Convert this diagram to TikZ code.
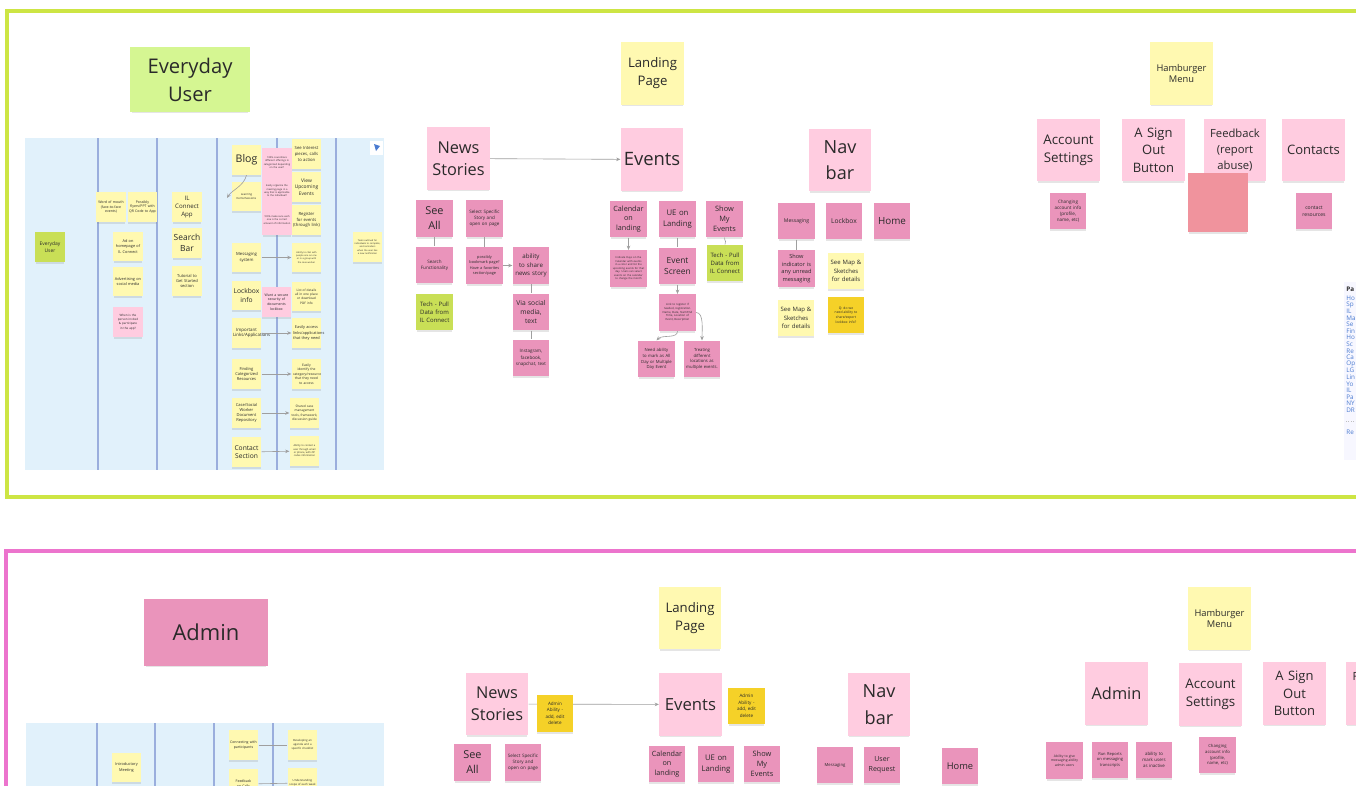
\documentclass[tikz,border=0pt]{standalone}
\usepackage{fontspec}
\setmainfont{Open Sans}
\usepackage{xcolor}
\usepackage{tikz}
\usetikzlibrary{arrows.meta, shadows}

\definecolor{ink}{HTML}{2A2A2A}
\definecolor{nYellow}{HTML}{FFF9B1}
\definecolor{nPink}{HTML}{FFCCE0}
\definecolor{nRose}{HTML}{EA94BB}
\definecolor{nLime}{HTML}{C9DF56}
\definecolor{nMint}{HTML}{D5F692}
\definecolor{nGold}{HTML}{F5D128}
\definecolor{nCoral}{HTML}{F0939D}
\definecolor{boardBlue}{HTML}{E1F1FB}
\definecolor{laneLine}{HTML}{9AAEDD}
\definecolor{frameLime}{HTML}{CDE544}
\definecolor{framePink}{HTML}{EC74CD}
\definecolor{linkBlue}{HTML}{4A7BD0}

\newcommand{\fs}[2]{\fontsize{#1}{#2}\selectfont}

\begin{document}
\begin{tikzpicture}[>=Stealth, x=0.02cm, y=-0.02cm,
    note/.style={rectangle, inner sep=0.5pt, align=center, text=ink,
        execute at begin node={\hyphenpenalty=10000\exhyphenpenalty=10000},
        drop shadow={shadow xshift=0pt, shadow yshift=-0.05cm, shadow scale=0.97, opacity=0.2}},
    sm/.style={note, minimum width=0.73cm, minimum height=0.73cm, text width=0.66cm},
    lg/.style={note, minimum width=1.25cm, minimum height=1.25cm, text width=1.15cm},
    th/.style={note, minimum width=0.59cm, minimum height=0.59cm, text width=0.54cm},
    cYel/.style={fill=nYellow}, cPink/.style={fill=nPink}, cRose/.style={fill=nRose},
    cLime/.style={fill=nLime}, cGold/.style={fill=nGold}, cMint/.style={fill=nMint},
    wire/.style={gray!75, line width=0.35pt},
    arr/.style={-{Stealth[length=2.4pt, width=2pt]}}]

\path[use as bounding box] (0,0) rectangle (1356,785);
\clip (0,0) rectangle (1356,785);
\fill[white] (0,0) rectangle (1356,785);

% ============================================================
% UPPER FRAME: Everyday user
% ============================================================

\draw[frameLime, line width=0.08cm] (7,11) rectangle (1420,497);

\node[note, cMint, minimum width=2.4cm, minimum height=1.3cm, font=\fs{11.5}{16}]
    (evuser) at (190,79.5) {Everyday\\User};

% --- journey board (thumbnail) ---
\fill[boardBlue] (25,138) rectangle (384,470);
\foreach \lx in {98, 157, 217, 277, 336} {
    \draw[laneLine, line width=0.6pt] (\lx,138) -- (\lx,470);
}
\fill[white] (370,141) rectangle (383,155);
\fill[linkBlue] (374,144) -- (380,146) -- (376,151) -- cycle;

\node[th, cLime,  font=\fs{2.8}{3.6}] (bu)     at (50,247)    {Everyday User};
\node[th, cYel,   font=\fs{2}{2.7}]   (wom)    at (111,207)   {Word of mouth (face-to-face events)};
\node[th, cYel,   font=\fs{2}{2.7}]   (flyers) at (142.5,207) {Possibly flyers/PPT with QR Code to App};
\node[th, cYel,   font=\fs{2.2}{3}]   (adhome) at (128,246.5) {Ad on homepage of IL Connect};
\node[th, cYel,   font=\fs{2.2}{3}]   (advsoc) at (128,281.5) {Advertising on social media};
\node[th, cPink,  font=\fs{1.7}{2.4}] (when)   at (128,322)   {When is the person invited \& participate in the app?};
\node[th, cYel,   font=\fs{3.5}{4.6}] (ilapp)  at (187,207)   {IL Connect App};
\node[th, cYel,   font=\fs{4.8}{6}]   (sbar)   at (187,243)   {Search Bar};
\node[th, cYel,   font=\fs{2.3}{3}]   (tut)    at (187,281)   {Tutorial to Get Started section};

\node[th, cYel,   font=\fs{6}{7}]     (blog)     at (246.5,160)   {Blog};
\node[th, cPink,  font=\fs{1.4}{1.9}] (bpa)      at (277,162.5)   {100\% council/are different offerings in categorized depending on the user?};
\node[th, cYel,   font=\fs{2.4}{3.3}] (seeint)   at (306.5,154)   {See Interest pieces, calls to action};
\node[th, cYel,   font=\fs{1.6}{2.2}] (learn)    at (246.5,196.5) {Learning Items/Sessions};
\node[th, cPink,  font=\fs{1.4}{1.9}] (bpb)      at (277,191)     {Easily organize the meeting page in a way that is applicable to the individual?};
\node[th, cYel,   font=\fs{2.8}{3.7}] (viewup)   at (306.5,187)   {View Upcoming Events};
\node[th, cPink,  font=\fs{1.4}{1.9}] (bpc)      at (277,220)     {100\% make sure each one is the correct amount of information};
\node[th, cYel,   font=\fs{2.4}{3.2}] (reg)      at (306.5,220)   {Register for events (through link)};
\node[th, cYel,   font=\fs{2.4}{3.2}] (msgsys)   at (246.5,257.5) {Messaging system};
\node[th, cYel,   font=\fs{1.3}{1.8}] (msgnote)  at (306.5,257.5) {Ability to chat with people one on one or in a group with the case worker};
\node[th, cYel,   font=\fs{3.8}{4.8}] (lbinfo)   at (246.5,295.5) {Lockbox info};
\node[th, cPink,  font=\fs{2}{2.6}]   (lbpink)   at (276.5,302)   {Want a secure security of documents lockbox};
\node[th, cYel,   font=\fs{1.8}{2.5}] (lbdet)    at (306.5,296.5) {List of details all in one place or download PDF info};
\node[th, cYel,   font=\fs{2.5}{3.3}] (implinks) at (246.5,333)   {Important Links/Appli\-cations};
\node[th, cYel,   font=\fs{2.2}{2.9}] (easyacc)  at (306.5,333)   {Easily access links/applications that they need};
\node[th, cYel,   font=\fs{2.3}{3}]   (findcat)  at (246.5,374)   {Finding Categorized Resources};
\node[th, cYel,   font=\fs{1.9}{2.6}] (easyid)   at (306.5,374)   {Easily identify the category/resource that they need to access};
\node[th, cYel,   font=\fs{2.3}{3}]   (casew)    at (246.5,413)   {Case/Social Worker Document Repository};
\node[th, cYel,   font=\fs{1.8}{2.5}] (mgmt)     at (304.5,413)   {Shared case management tools, framework, discussion guide};
\node[th, cYel,   font=\fs{3.8}{4.8}] (contsec)  at (246.5,452)   {Contact Section};
\node[th, cYel,   font=\fs{1.4}{1.9}] (abcont)   at (304.5,451)   {Ability to contact a user through email or phone, with ZIP codes information};
\node[th, cYel,   font=\fs{1.3}{1.8}] (tasks)    at (367.5,247)   {Tasks outlined for individuals to complete, and reminders when the user has a new notification};

\foreach \a/\b in {msgsys/msgnote, implinks/easyacc, findcat/easyid, casew/mgmt, contsec/abcont} {
    \draw[wire, arr] (\a) -- (\b);
}
\coordinate (blogend) at (227,198);
\draw[wire, arr] (blog.south) .. controls (244,186) and (232,190) .. (blogend);

% --- landing page tree ---
\node[lg, cYel,  font=\fs{7.5}{10.2}] (landing) at (652.5,73.5) {Landing\\Page};
\node[lg, cPink, font=\fs{9.3}{12.5}] (news)    at (458.5,158.5) {News\\Stories};
\node[lg, cPink, font=\fs{10.5}{13}]  (events)  at (652,159.5)   {Events};
\node[lg, cPink, font=\fs{10.3}{15}]  (navbar)  at (840,160)     {Nav\\bar};
\draw[wire, arr] (news) -- (events);

\node[sm, cRose, font=\fs{6.2}{8.5}]  (seeall)   at (434.5,218.5) {See\\All};
\node[sm, cRose, font=\fs{2.6}{3.4}]  (select)   at (484.5,218.5) {Select Specific Story and open on page};
\node[sm, cRose, font=\fs{2.6}{3.4}]  (search)   at (434.5,265)   {Search\\Functionality};
\node[sm, cRose, font=\fs{2.2}{3}]    (bookmark) at (484.5,265.5) {possibly bookmark page? Have a favorites section/page};
\node[sm, cRose, font=\fs{3.5}{4.8}]  (share)    at (531,265.5)   {ability to share news story};
\node[sm, cLime, font=\fs{3.4}{4.6}]  (techns)   at (434.5,312)   {Tech - Pull Data from IL Connect};
\node[sm, cRose, font=\fs{3.8}{5.4}]  (via)      at (531,312)     {Via social media, text};
\node[sm, cRose, font=\fs{2.6}{3.6}]  (insta)    at (531,358)     {Instagram, facebook, snapchat, text};

\node[sm, cRose, font=\fs{4.1}{5.6}]  (cal)      at (628.5,219)   {Calendar\\on\\landing};
\node[sm, cRose, font=\fs{4.4}{6}]    (ue)       at (677.5,219)   {UE on\\Landing};
\node[sm, cRose, font=\fs{4.2}{5.6}]  (showmy)   at (724.5,219)   {Show\\My\\Events};
\node[sm, cRose, font=\fs{1.5}{2}]    (caldet)   at (628.5,268.5) {Indicate Days on the Calendar with events in a color and list the upcoming events for that day. Users can select events on the calendar to change the month};
\node[sm, cRose, font=\fs{4.8}{6.6}]  (evscreen) at (677.5,266)   {Event\\Screen};
\node[sm, cLime, font=\fs{3.4}{4.6}]  (techev)   at (725,263)     {Tech - Pull Data from IL Connect};
\node[sm, cRose, font=\fs{1.6}{2.1}]  (evdet)    at (677.5,312.5) {Link to register if needed, registration. Name, Date, Start/End Time, Location of Event, Description};
\node[sm, cRose, font=\fs{2.4}{3.3}]  (needall)  at (656.5,359)   {Need ability to mark as All Day or Multiple Day Event};
\node[sm, cRose, font=\fs{2.4}{3.3}]  (treating) at (702,359)     {Treating different locations as multiple events.};

\node[sm, cRose, font=\fs{2.9}{4}]    (msg)      at (796.5,221)   {Messaging};
\node[sm, cRose, font=\fs{3.8}{5}]    (lockbox)  at (844,221)     {Lockbox};
\node[sm, cRose, font=\fs{5.6}{7}]    (home)     at (892,221)     {Home};
\node[sm, cRose, font=\fs{3.2}{4.4}]  (showind)  at (796.5,268.5) {Show indicator is any unread messaging};
\node[sm, cYel,  font=\fs{3.4}{4.8}]  (seemapa)  at (846,271)     {See Map \& Sketches for details};
\node[sm, cYel,  font=\fs{3.4}{4.8}]  (seemapb)  at (796,318)     {See Map \& Sketches for details};
\node[sm, cGold, font=\fs{1.9}{2.6}]  (qlock)    at (846,315)     {Q: do we need ability to share/export lockbox info?};

\foreach \a/\b in {seeall/search, select/bookmark, share/via, via/insta, ue/evscreen, msg/showind} {
    \draw[wire] (\a) -- (\b);
}
\foreach \a/\b in {bookmark/share, cal/caldet, evscreen/evdet} {
    \draw[wire, arr] (\a) -- (\b);
}
\draw[wire, arr] (evdet.south) .. controls +(0,8) and +(6,-6) .. (needall.north);
\draw[wire, arr] (evdet.east) .. controls +(8,0) and +(0,-10) .. (treating.north);
\draw[wire] (showmy.south) .. controls +(0,4) and +(2,-3) .. (techev.north);

% --- hamburger menu ---
\node[lg, cYel,  font=\fs{5.3}{6.8}]  (hamburger) at (1181.5,73.5) {Hamburger\\Menu};
\node[lg, cPink, font=\fs{7.6}{10.2}] (acct)      at (1068.5,150)  {Account\\Settings};
\node[lg, cPink, font=\fs{7.4}{10}]   (signout)   at (1153.5,150)  {A Sign\\Out\\Button};
\node[lg, cPink, font=\fs{6.4}{9.1}]  (feedback)  at (1235,150)    {Feedback\\(report\\abuse)};
\node[lg, cPink, font=\fs{7.4}{10}]   (contacts)  at (1313.5,150)  {Contacts};
\node[note, fill=nCoral, minimum width=1.2cm, minimum height=1.18cm] (rednote) at (1218,202.5) {};
\node[sm, cRose, font=\fs{2.6}{3.4}]  (chacct)    at (1068,211)    {Changing\\account info\\(profile,\\name, etc)};
\node[sm, cRose, font=\fs{2.9}{3.9}]  (contres)   at (1314,211)    {contact resources};

% --- pages list (cut at the edge) ---
\fill[blue!3] (1344,282) rectangle (1360,460);
\node[anchor=west, inner sep=0pt, font=\fs{3.6}{4}\bfseries, text=ink] (pghead) at (1346,289) {Pa};
\foreach \t [count=\i] in {Ho, Sp, IL, Ma, Se, Fin, Ho, Sc, Re, Ca, Op, LG, Lin, Yo, IL, Pa, NY, DR} {
    \node[anchor=west, inner sep=0pt, font=\fs{3.6}{4}, text=linkBlue] (pg\i) at (1346,{291.5+6.6*\i}) {\t};
}
\draw[gray!50, densely dotted] (1346,421) -- (1360,421);
\node[anchor=west, inner sep=0pt, font=\fs{3.6}{4}, text=linkBlue] (pgre) at (1346,432) {Re};

% ============================================================
% LOWER FRAME: Admin
% ============================================================

\draw[framePink, line width=0.08cm] (6,551) rectangle (1420,900);

\node[note, cRose, minimum width=2.48cm, minimum height=1.34cm, font=\fs{12.5}{15}]
    (admin) at (206,632.5) {Admin};

\fill[boardBlue] (26,723) rectangle (384,800);
\foreach \lx in {97, 155, 214, 273} {
    \draw[laneLine, line width=0.6pt] (\lx,723) -- (\lx,800);
}
\node[th, cYel, font=\fs{2.2}{3}]   (intro) at (126.5,767.5) {Introductory Meeting};
\node[th, cYel, font=\fs{2}{2.7}]   (conn)  at (243.5,745)   {Connecting with participants};
\node[th, cYel, font=\fs{1.6}{2.2}] (bnoa)  at (302.5,745)   {Developing an agenda and a specific checklist};
\node[th, cYel, font=\fs{2}{2.7}]   (bfeed) at (243.5,784)   {Feedback on Calls};
\node[th, cYel, font=\fs{1.6}{2.2}] (bnob)  at (302.5,783)   {Understanding scope of each week};
\draw[wire] (conn) -- (bnoa);
\draw[wire] (bfeed) -- (bnob);

\node[lg, cYel,  font=\fs{7.5}{10.2}] (landingb) at (690,618)   {Landing\\Page};
\node[lg, cPink, font=\fs{9.3}{12.5}] (newsb)    at (497,704)   {News\\Stories};
\node[lg, cPink, font=\fs{9.5}{12}]   (eventsb)  at (690.5,704.5) {Events};
\draw[wire, arr] (newsb) -- (eventsb);
\node[sm, cGold, font=\fs{2.6}{3.7}]  (adaba)    at (555,713.5) {Admin\\Ability -\\add, edit\\delete};
\node[sm, cGold, font=\fs{2.6}{3.7}]  (adabb)    at (746.5,706) {Admin\\Ability -\\add, edit\\delete};

\node[sm, cRose, font=\fs{6.2}{8.5}]  (seeallb)  at (472.5,762.5) {See\\All};
\node[sm, cRose, font=\fs{2.6}{3.4}]  (selectb)  at (523,762.5)   {Select Specific Story and open on page};
\node[sm, cRose, font=\fs{4.1}{5.6}]  (calb)     at (667,764)     {Calendar\\on\\landing};
\node[sm, cRose, font=\fs{4.4}{6}]    (ueb)      at (716,764)     {UE on\\Landing};
\node[sm, cRose, font=\fs{4.2}{5.6}]  (showmyb)  at (762,764)     {Show\\My\\Events};

\node[lg, cPink, font=\fs{10.3}{15}]  (navbarb)  at (879,704.5)   {Nav\\bar};
\node[sm, cRose, font=\fs{2.4}{3}]    (msgb)     at (835,765)     {Messaging};
\node[sm, cRose, font=\fs{4}{5.4}]    (usereq)   at (882,765)     {User\\Request};
\node[sm, cRose, font=\fs{5.3}{7}]    (homeb)    at (960,766)     {Home};

\node[lg, cYel,  font=\fs{5.3}{6.8}]  (hamburgerb) at (1219.5,618.5) {Hamburger\\Menu};
\node[lg, cPink, font=\fs{9.3}{12}]   (adminb)   at (1116.5,693.5) {Admin};
\node[lg, cPink, font=\fs{7.6}{10.2}] (acctb)    at (1210.5,694.5) {Account\\Settings};
\node[lg, cPink, font=\fs{7.4}{10}]   (signoutb) at (1294.5,693.5) {A Sign\\Out\\Button};
\node[lg, cPink, font=\fs{6.4}{9.1}]  (feedbackb) at (1377.5,693.5) {Feedback\\(report\\abuse)};
\node[sm, cRose, font=\fs{1.9}{2.6}]  (givemsg)  at (1064.5,760.5) {Ability to give messaging ability admin users};
\node[sm, cRose, font=\fs{2.3}{3.2}]  (runrep)   at (1110,760)    {Run Reports on messaging transcripts};
\node[sm, cRose, font=\fs{2.5}{3.6}]  (markin)   at (1154,760)    {ability to mark users as inactive};
\node[sm, cRose, font=\fs{2.4}{3.3}]  (chacctb)  at (1217.5,755)  {Changing\\account info\\(profile,\\name, etc)};

\end{tikzpicture}
\end{document}
